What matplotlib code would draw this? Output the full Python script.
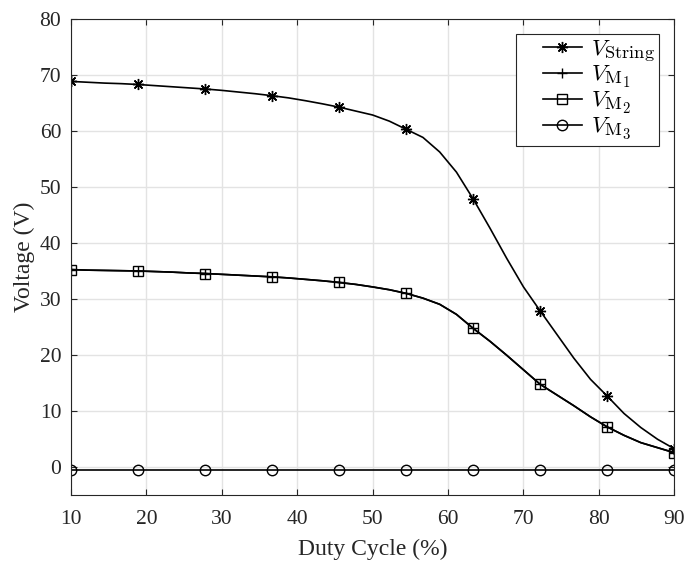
import numpy as np
import matplotlib
matplotlib.use("Agg")
import matplotlib.pyplot as plt
import matplotlib._mathtext as mathtext_core
from matplotlib.legend_handler import HandlerLine2D

# slightly larger sub/superscripts, as in LaTeX legends
mathtext_core.SHRINK_FACTOR = 0.8

# Duty cycle sweep (%), 37 samples; markers every 4th sample
duty = np.linspace(10, 90, 37)

v_string = [68.8, 68.65, 68.5, 68.4, 68.25, 68.05, 67.85, 67.65, 67.45, 67.2,
            66.9, 66.6, 66.25, 65.85, 65.35, 64.8, 64.2, 63.5, 62.8, 61.7,
            60.25, 58.8, 56.2, 52.6, 47.8, 42.6, 37.2, 32.1, 27.8, 23.6,
            19.4, 15.6, 12.6, 9.5, 7.0, 4.9, 3.2]

v_m2 = [35.2, 35.1, 35.05, 35.0, 34.95, 34.85, 34.75, 34.6, 34.5, 34.35,
        34.2, 34.05, 33.9, 33.7, 33.45, 33.2, 32.9, 32.55, 32.1, 31.6,
        30.95, 30.1, 29.0, 27.2, 24.7, 22.4, 19.9, 17.3, 14.7, 12.8,
        10.9, 8.9, 7.1, 5.6, 4.3, 3.4, 2.5]

v_m1 = list(v_m2)
v_m3 = [-0.6] * 37

x_ticks = [10, 20, 30, 40, 50, 60, 70, 80, 90]
y_ticks = [0, 10, 20, 30, 40, 50, 60, 70, 80]


class InsetLineHandler(HandlerLine2D):
    """Legend line handle drawn with some empty space on its left."""

    def __init__(self, inset=0.36, **kw):
        super().__init__(**kw)
        self.inset = inset

    def create_artists(self, legend, orig_handle, xdescent, ydescent,
                       width, height, fontsize, trans):
        pad = width * self.inset
        return super().create_artists(legend, orig_handle, xdescent - pad,
                                      ydescent, width - pad, height,
                                      fontsize, trans)


plt.rcParams['font.family'] = ['Liberation Serif', 'DejaVu Serif']
plt.rcParams['mathtext.fontset'] = 'cm'

fig = plt.figure(figsize=(6.88, 5.63), dpi=100)
ax = fig.add_axes([0.1032, 0.1213, 0.8769, 0.8455])

axis_col = '#262626'
common = dict(color='black', lw=1.2, markevery=4, markersize=6.5,
              markeredgewidth=1.0, markerfacecolor='none')

ax.plot(duty, v_string, marker=(8, 2, 0), label=r'$V_{\mathrm{String}}$',
        **{**common, 'markersize': 8})
ax.plot(duty, v_m1, marker='+', label=r'$V_{\mathrm{M}_1}$',
        **{**common, 'markersize': 7.5})
ax.plot(duty, v_m2, marker='s', label=r'$V_{\mathrm{M}_2}$', **common)
ax.plot(duty, v_m3, marker='o', label=r'$V_{\mathrm{M}_3}$',
        **{**common, 'markersize': 7.5})

ax.set_xlim(10, 90)
ax.set_ylim(-5, 80)
ax.set_xticks(x_ticks)
ax.set_yticks(y_ticks)
ax.grid(True, color='#e3e3e3', lw=1.0)
ax.set_axisbelow(True)

ax.tick_params(direction='in', top=True, right=True, length=4.5, width=0.8,
               colors=axis_col, labelsize=15.5, labelcolor=axis_col)
ax.tick_params(axis='x', pad=11)
ax.tick_params(axis='y', pad=7)
for s in ax.spines.values():
    s.set_color(axis_col)
    s.set_linewidth(0.8)

ax.set_xlabel('Duty Cycle (%)', fontsize=17, color=axis_col, labelpad=7)
ax.set_ylabel('Voltage (V)', fontsize=17, color=axis_col, labelpad=3)

leg = ax.legend(loc='upper right', fontsize=16.5, frameon=True, fancybox=False,
                edgecolor=axis_col, framealpha=1, handlelength=2.65,
                handletextpad=0.4, labelspacing=0.0, borderpad=0.2,
                borderaxespad=0.65,
                handler_map={matplotlib.lines.Line2D: InsetLineHandler()})
leg.get_frame().set_linewidth(0.8)

fig.savefig('out.png', dpi=100)
